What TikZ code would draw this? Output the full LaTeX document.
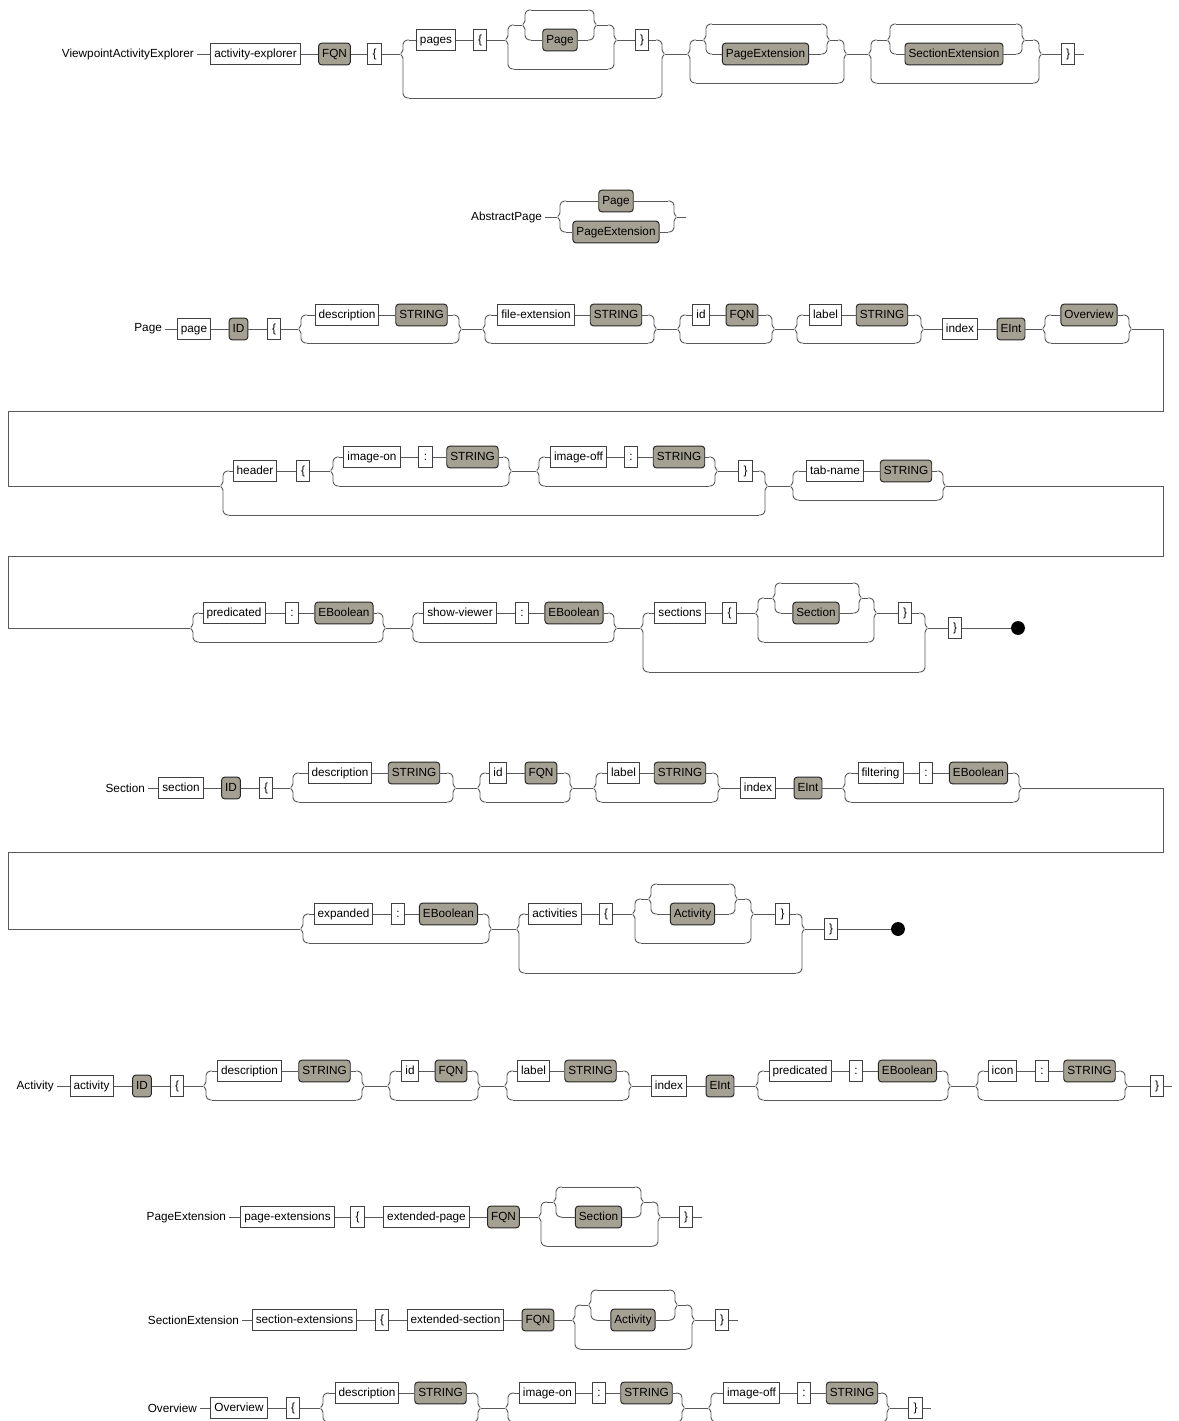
\documentclass[tikz,border=0pt]{standalone}
\usepackage{fontspec}
\setmainfont{Liberation Sans}
\definecolor{refgray}{RGB}{164,160,146}
\tikzset{
  wire/.style={draw=black!65},
  kwbox/.style={draw=black!75, fill=white, minimum height=12.4pt, minimum width=7.9pt,
    inner xsep=2pt, inner ysep=0pt, text height=5pt, text depth=1.4pt},
  refbox/.style={kwbox, draw=black!85, fill=refgray, rounded corners=1.8pt},
  rowname/.style={inner sep=1.5pt, anchor=east},
  enddot/.style={circle, fill=black, inner sep=0pt, minimum size=7.9pt}
}
\newcommand\lfork[5]{%
  \coordinate (#1) at (#2,#3);
  \coordinate (#1-t) at (#2+9,#4);
  \coordinate (#1-b) at (#2+9,#5);
  \draw[wire, rounded corners=0.8pt] (#1-t) -- (#2+6,#4) -- (#2+3,#4+3) -- (#2+3,#3-3) -- (#1) -- (#2+3,#3+3) -- (#2+3,#5-3) -- (#2+6,#5) -- (#1-b);}
\newcommand\rfork[5]{%
  \coordinate (#1) at (#2,#3);
  \coordinate (#1-t) at (#2-9,#4);
  \coordinate (#1-b) at (#2-9,#5);
  \draw[wire, rounded corners=0.8pt] (#1-t) -- (#2-6,#4) -- (#2-3,#4+3) -- (#2-3,#3-3) -- (#1) -- (#2-3,#3+3) -- (#2-3,#5-3) -- (#2-6,#5) -- (#1-b);}
\begin{document}
\begin{tikzpicture}[x=0.02cm, y=-0.02cm, line width=0.55pt, font=\fontsize{6.7}{8}\selectfont]
\useasboundingbox (0,0) rectangle (1179,1421);

\node[rowname] (vae) at (197,54) {ViewpointActivityExplorer};
\node[kwbox] (actexp) at (255.5,54) {activity-explorer};
\node[refbox] (fqnA) at (334.5,54) {FQN};
\node[kwbox] (obrA) at (374.5,54) {\{};
\node[kwbox] (pages) at (436,40) {pages};
\node[kwbox] (obrB) at (480,40) {\{};
\node[refbox] (pageA) at (560,40) {Page};
\node[kwbox] (cbrB) at (642,40) {\}};
\node[refbox] (pgextA) at (765.5,54) {PageExtension};
\node[refbox] (secextA) at (954,54) {SectionExtension};
\node[kwbox] (cbrA) at (1068,54) {\}};
\coordinate (endA) at (1084,54);
\lfork{fa1}{400}{54}{40}{98}
\lfork{fa2}{505}{40}{25}{69}
\lfork{fa3}{522}{25}{10}{40}
\rfork{fa4}{597}{25}{10}{40}
\rfork{fa5}{617}{40}{25}{69}
\rfork{fa6}{665}{54}{40}{98}
\lfork{fa7}{687}{54}{40}{83}
\lfork{fa8}{703}{40}{24}{54}
\rfork{fa9}{830}{40}{24}{54}
\rfork{fa10}{847}{54}{40}{83}
\lfork{fa11}{868}{54}{40}{83}
\lfork{fa12}{887}{40}{24}{54}
\rfork{fa13}{1025}{40}{24}{54}
\rfork{fa14}{1042}{54}{40}{83}
\draw[wire] (vae) -- (actexp) (actexp) -- (fqnA) (fqnA) -- (obrA) (obrA) -- (fa1);
\draw[wire] (fa1-t) -- (pages) (pages) -- (obrB) (obrB) -- (fa2) (fa2-t) -- (fa3) (fa3-b) -- (pageA)
  (pageA) -- (fa4-b) (fa4) -- (fa5-t) (fa3-t) -- (fa4-t) (fa2-b) -- (fa5-b) (fa5) -- (cbrB)
  (cbrB) -- (fa6-t) (fa1-b) -- (fa6-b);
\draw[wire] (fa6) -- (fa7) (fa7-t) -- (fa8) (fa8-b) -- (pgextA) (pgextA) -- (fa9-b) (fa9) -- (fa10-t)
  (fa8-t) -- (fa9-t) (fa7-b) -- (fa10-b) (fa10) -- (fa11);
\draw[wire] (fa11-t) -- (fa12) (fa12-b) -- (secextA) (secextA) -- (fa13-b) (fa13) -- (fa14-t)
  (fa12-t) -- (fa13-t) (fa11-b) -- (fa14-b) (fa14) -- (cbrA) (cbrA) -- (endA);

\node[rowname] (absp) at (545,217) {AbstractPage};
\node[refbox] (pageB) at (616,201) {Page};
\node[refbox] (pgextB) at (616,232) {PageExtension};
\coordinate (endB) at (686,217);
\lfork{fb1}{557}{217}{201}{232}
\rfork{fb2}{677}{217}{201}{232}
\draw[wire] (absp) -- (fb1) (fb1-t) -- (pageB) (pageB) -- (fb2-t) (fb1-b) -- (pgextB) (pgextB) -- (fb2-b)
  (fb2) -- (endB);

\node[rowname] (pageT) at (165,329) {Page};
\node[kwbox] (pagekw) at (194,329) {page};
\node[refbox] (idA) at (238.5,329) {ID};
\node[kwbox] (obrC) at (274,329) {\{};
\node[kwbox] (descA) at (347,315) {description};
\node[refbox] (strA) at (421.5,315) {STRING};
\node[kwbox] (fileext) at (536,315) {file-extension};
\node[refbox] (strB) at (616,315) {STRING};
\node[kwbox] (idkwA) at (701,315) {id};
\node[refbox] (fqnB) at (742,315) {FQN};
\node[kwbox] (labelA) at (825.5,315) {label};
\node[refbox] (strC) at (882,315) {STRING};
\node[kwbox] (indexA) at (960,329) {index};
\node[refbox] (eintA) at (1011,329) {EInt};
\node[refbox] (ovA) at (1089,315) {Overview};
\lfork{fc1}{298}{329}{315}{343}
\rfork{fc2}{462}{329}{315}{343}
\lfork{fc3}{482}{329}{315}{343}
\rfork{fc4}{657}{329}{315}{343}
\lfork{fc5}{677}{329}{315}{343}
\rfork{fc6}{775}{329}{315}{343}
\lfork{fc7}{794}{329}{315}{343}
\rfork{fc8}{924}{329}{315}{343}
\lfork{fc9}{1042}{329}{315}{343}
\rfork{fc10}{1132}{329}{315}{343}
\coordinate (wa) at (1163,411);
\coordinate (wb) at (8,486);
\draw[wire] (pageT) -- (pagekw) (pagekw) -- (idA) (idA) -- (obrC) (obrC) -- (fc1)
  (fc1-t) -- (descA) (descA) -- (strA) (strA) -- (fc2-t) (fc1-b) -- (fc2-b) (fc2) -- (fc3)
  (fc3-t) -- (fileext) (fileext) -- (strB) (strB) -- (fc4-t) (fc3-b) -- (fc4-b) (fc4) -- (fc5)
  (fc5-t) -- (idkwA) (idkwA) -- (fqnB) (fqnB) -- (fc6-t) (fc5-b) -- (fc6-b) (fc6) -- (fc7)
  (fc7-t) -- (labelA) (labelA) -- (strC) (strC) -- (fc8-t) (fc7-b) -- (fc8-b) (fc8) -- (indexA)
  (indexA) -- (eintA) (eintA) -- (fc9) (fc9-t) -- (ovA) (ovA) -- (fc10-t) (fc9-b) -- (fc10-b);

\node[kwbox] (header) at (255,471) {header};
\node[kwbox] (obrD) at (303,471) {\{};
\node[kwbox] (imgonA) at (372,457) {image-on};
\node[kwbox] (colA) at (425.5,457) {:};
\node[refbox] (strD) at (472.5,457) {STRING};
\node[kwbox] (imgoffA) at (578.5,457) {image-off};
\node[kwbox] (colB) at (631,457) {:};
\node[refbox] (strE) at (679,457) {STRING};
\node[kwbox] (cbrD) at (745.5,471) {\}};
\node[kwbox] (tabname) at (835,471) {tab-name};
\node[refbox] (strF) at (906,471) {STRING};
\lfork{fd1}{220}{486}{471}{515}
\lfork{fd2}{330}{471}{457}{486}
\rfork{fd3}{512}{471}{457}{486}
\lfork{fd4}{536}{471}{457}{486}
\rfork{fd5}{718}{471}{457}{486}
\rfork{fd6}{768}{486}{471}{515}
\lfork{fd7}{790}{486}{471}{500}
\rfork{fd8}{946}{486}{471}{500}
\coordinate (wc) at (1163,556);
\coordinate (wd) at (8,628);
\draw[wire] (fc10) -| (wa) -| (wb) -- (fd1);
\draw[wire] (fd1-t) -- (header) (header) -- (obrD) (obrD) -- (fd2)
  (fd2-t) -- (imgonA) (imgonA) -- (colA) (colA) -- (strD) (strD) -- (fd3-t) (fd2-b) -- (fd3-b) (fd3) -- (fd4)
  (fd4-t) -- (imgoffA) (imgoffA) -- (colB) (colB) -- (strE) (strE) -- (fd5-t) (fd4-b) -- (fd5-b)
  (fd5) -- (cbrD) (cbrD) -- (fd6-t) (fd1-b) -- (fd6-b) (fd6) -- (fd7)
  (fd7-t) -- (tabname) (tabname) -- (strF) (strF) -- (fd8-t) (fd7-b) -- (fd8-b);

\node[kwbox] (predA) at (234,613) {predicated};
\node[kwbox] (colC) at (292,613) {:};
\node[refbox] (eboolA) at (344,613) {EBoolean};
\node[kwbox] (showv) at (460,613) {show-viewer};
\node[kwbox] (colD) at (522,613) {:};
\node[refbox] (eboolB) at (574,613) {EBoolean};
\node[kwbox] (sectionsA) at (680,613) {sections};
\node[kwbox] (obrE) at (729.5,613) {\{};
\node[refbox] (secA) at (816,613) {Section};
\node[kwbox] (cbrE) at (905,613) {\}};
\node[kwbox] (cbrF) at (955,628) {\}};
\node[enddot] (dotA) at (1018,628) {};
\lfork{fe1}{190}{628}{613}{642}
\rfork{fe2}{386}{628}{613}{642}
\lfork{fe3}{410}{628}{613}{642}
\rfork{fe4}{617}{628}{613}{642}
\lfork{fe5}{640}{628}{613}{672}
\lfork{fe6}{755}{613}{598}{642}
\lfork{fe7}{772}{598}{583}{613}
\rfork{fe8}{862}{598}{583}{613}
\rfork{fe9}{877}{613}{598}{642}
\rfork{fe10}{928}{628}{613}{672}
\draw[wire] (fd8) -| (wc) -| (wd) -- (fe1);
\draw[wire] (fe1-t) -- (predA) (predA) -- (colC) (colC) -- (eboolA) (eboolA) -- (fe2-t) (fe1-b) -- (fe2-b)
  (fe2) -- (fe3) (fe3-t) -- (showv) (showv) -- (colD) (colD) -- (eboolB) (eboolB) -- (fe4-t)
  (fe3-b) -- (fe4-b) (fe4) -- (fe5) (fe5-t) -- (sectionsA) (sectionsA) -- (obrE) (obrE) -- (fe6)
  (fe6-t) -- (fe7) (fe7-b) -- (secA) (secA) -- (fe8-b) (fe8) -- (fe9-t) (fe7-t) -- (fe8-t)
  (fe6-b) -- (fe9-b) (fe9) -- (cbrE) (cbrE) -- (fe10-t) (fe5-b) -- (fe10-b) (fe10) -- (cbrF)
  (cbrF) -- (dotA);

\node[rowname] (secT) at (148,788) {Section};
\node[kwbox] (seckw) at (181,788) {section};
\node[refbox] (idB) at (231,788) {ID};
\node[kwbox] (obrG) at (266,788) {\{};
\node[kwbox] (descB) at (340,773) {description};
\node[refbox] (strG) at (414,773) {STRING};
\node[kwbox] (idkwB) at (498,773) {id};
\node[refbox] (fqnC) at (541,773) {FQN};
\node[kwbox] (labelB) at (623.5,773) {label};
\node[refbox] (strH) at (680,773) {STRING};
\node[kwbox] (indexB) at (758,788) {index};
\node[refbox] (eintB) at (808,788) {EInt};
\node[kwbox] (filtering) at (880.5,773) {filtering};
\node[kwbox] (colE) at (926,773) {:};
\node[refbox] (eboolC) at (978.5,773) {EBoolean};
\lfork{ff1}{290}{788}{773}{802}
\rfork{ff2}{456}{788}{773}{802}
\lfork{ff3}{477}{788}{773}{802}
\rfork{ff4}{573}{788}{773}{802}
\lfork{ff5}{593}{788}{773}{802}
\rfork{ff6}{721}{788}{773}{802}
\lfork{ff7}{842}{788}{773}{802}
\rfork{ff8}{1022}{788}{773}{802}
\coordinate (we) at (1163,852);
\coordinate (wf) at (8,929);
\draw[wire] (secT) -- (seckw) (seckw) -- (idB) (idB) -- (obrG) (obrG) -- (ff1)
  (ff1-t) -- (descB) (descB) -- (strG) (strG) -- (ff2-t) (ff1-b) -- (ff2-b) (ff2) -- (ff3)
  (ff3-t) -- (idkwB) (idkwB) -- (fqnC) (fqnC) -- (ff4-t) (ff3-b) -- (ff4-b) (ff4) -- (ff5)
  (ff5-t) -- (labelB) (labelB) -- (strH) (strH) -- (ff6-t) (ff5-b) -- (ff6-b) (ff6) -- (indexB)
  (indexB) -- (eintB) (eintB) -- (ff7) (ff7-t) -- (filtering) (filtering) -- (colE) (colE) -- (eboolC)
  (eboolC) -- (ff8-t) (ff7-b) -- (ff8-b);

\node[kwbox] (expanded) at (343.5,914) {expanded};
\node[kwbox] (colF) at (398,914) {:};
\node[refbox] (eboolD) at (448.5,914) {EBoolean};
\node[kwbox] (activA) at (555,914) {activities};
\node[kwbox] (obrH) at (606,914) {\{};
\node[refbox] (actA) at (692.5,914) {Activity};
\node[kwbox] (cbrH) at (782.5,914) {\}};
\node[kwbox] (cbrI) at (831,929) {\}};
\node[enddot] (dotB) at (898,929) {};
\lfork{fg1}{300}{929}{914}{943}
\rfork{fg2}{492}{929}{914}{943}
\lfork{fg3}{516}{929}{914}{973}
\lfork{fg4}{632}{914}{899}{943}
\lfork{fg5}{648}{899}{884}{914}
\rfork{fg6}{738}{899}{884}{914}
\rfork{fg7}{754}{914}{899}{943}
\rfork{fg8}{805}{929}{914}{973}
\draw[wire] (ff8) -| (we) -| (wf) -- (fg1);
\draw[wire] (fg1-t) -- (expanded) (expanded) -- (colF) (colF) -- (eboolD) (eboolD) -- (fg2-t)
  (fg1-b) -- (fg2-b) (fg2) -- (fg3) (fg3-t) -- (activA) (activA) -- (obrH) (obrH) -- (fg4)
  (fg4-t) -- (fg5) (fg5-b) -- (actA) (actA) -- (fg6-b) (fg6) -- (fg7-t) (fg5-t) -- (fg6-t)
  (fg4-b) -- (fg7-b) (fg7) -- (cbrH) (cbrH) -- (fg8-t) (fg3-b) -- (fg8-b) (fg8) -- (cbrI)
  (cbrI) -- (dotB);

\node[rowname] (actT) at (57,1086) {Activity};
\node[kwbox] (actkw) at (91.5,1086) {activity};
\node[refbox] (idC) at (142,1086) {ID};
\node[kwbox] (obrJ) at (177,1086) {\{};
\node[kwbox] (descC) at (249.5,1071) {description};
\node[refbox] (strJ) at (324.5,1071) {STRING};
\node[kwbox] (idkwC) at (410,1071) {id};
\node[refbox] (fqnD) at (451,1071) {FQN};
\node[kwbox] (labelC) at (533.5,1071) {label};
\node[refbox] (strK) at (590.5,1071) {STRING};
\node[kwbox] (indexC) at (669,1086) {index};
\node[refbox] (eintC) at (720,1086) {EInt};
\node[kwbox] (predB) at (800,1071) {predicated};
\node[kwbox] (colG) at (856,1071) {:};
\node[refbox] (eboolE) at (907.5,1071) {EBoolean};
\node[kwbox] (icon) at (1002.5,1071) {icon};
\node[kwbox] (colH) at (1042,1071) {:};
\node[refbox] (strL) at (1089.5,1071) {STRING};
\node[kwbox] (cbrJ) at (1157,1086) {\}};
\coordinate (endC) at (1172,1086);
\lfork{fh1}{203}{1086}{1071}{1100}
\rfork{fh2}{365}{1086}{1071}{1100}
\lfork{fh3}{387}{1086}{1071}{1100}
\rfork{fh4}{481}{1086}{1071}{1100}
\lfork{fh5}{504}{1086}{1071}{1100}
\rfork{fh6}{632}{1086}{1071}{1100}
\lfork{fh7}{755}{1086}{1071}{1100}
\rfork{fh8}{951}{1086}{1071}{1100}
\lfork{fh9}{975}{1086}{1071}{1100}
\rfork{fh10}{1128}{1086}{1071}{1100}
\draw[wire] (actT) -- (actkw) (actkw) -- (idC) (idC) -- (obrJ) (obrJ) -- (fh1)
  (fh1-t) -- (descC) (descC) -- (strJ) (strJ) -- (fh2-t) (fh1-b) -- (fh2-b) (fh2) -- (fh3)
  (fh3-t) -- (idkwC) (idkwC) -- (fqnD) (fqnD) -- (fh4-t) (fh3-b) -- (fh4-b) (fh4) -- (fh5)
  (fh5-t) -- (labelC) (labelC) -- (strK) (strK) -- (fh6-t) (fh5-b) -- (fh6-b) (fh6) -- (indexC)
  (indexC) -- (eintC) (eintC) -- (fh7) (fh7-t) -- (predB) (predB) -- (colG) (colG) -- (eboolE)
  (eboolE) -- (fh8-t) (fh7-b) -- (fh8-b) (fh8) -- (fh9) (fh9-t) -- (icon) (icon) -- (colH)
  (colH) -- (strL) (strL) -- (fh10-t) (fh9-b) -- (fh10-b) (fh10) -- (cbrJ) (cbrJ) -- (endC);

\node[rowname] (pgextT) at (229,1217) {PageExtension};
\node[kwbox] (pgextkw) at (287.5,1217) {page-extensions};
\node[kwbox] (obrK) at (357.5,1217) {\{};
\node[kwbox] (extpage) at (426.5,1217) {extended-page};
\node[refbox] (fqnE) at (503.5,1217) {FQN};
\node[refbox] (secB) at (598.5,1217) {Section};
\node[kwbox] (cbrK) at (686,1217) {\}};
\coordinate (endD) at (702,1217);
\lfork{fi1}{538}{1217}{1202}{1246}
\lfork{fi2}{553}{1202}{1187}{1217}
\rfork{fi3}{644}{1202}{1187}{1217}
\rfork{fi4}{661}{1217}{1202}{1246}
\draw[wire] (pgextT) -- (pgextkw) (pgextkw) -- (obrK) (obrK) -- (extpage) (extpage) -- (fqnE) (fqnE) -- (fi1)
  (fi1-t) -- (fi2) (fi2-b) -- (secB) (secB) -- (fi3-b) (fi3) -- (fi4-t) (fi2-t) -- (fi3-t)
  (fi1-b) -- (fi4-b) (fi4) -- (cbrK) (cbrK) -- (endD);

\node[rowname] (secextT) at (242,1320) {SectionExtension};
\node[kwbox] (secextkw) at (304.5,1320) {section-extensions};
\node[kwbox] (obrL) at (382,1320) {\{};
\node[kwbox] (extsec) at (455.5,1320) {extended-section};
\node[refbox] (fqnF) at (538,1320) {FQN};
\node[refbox] (actB) at (633,1320) {Activity};
\node[kwbox] (cbrL) at (722,1320) {\}};
\coordinate (endE) at (738,1320);
\lfork{fj1}{572}{1320}{1305}{1349}
\lfork{fj2}{588}{1305}{1290}{1320}
\rfork{fj3}{678}{1305}{1290}{1320}
\rfork{fj4}{695}{1320}{1305}{1349}
\draw[wire] (secextT) -- (secextkw) (secextkw) -- (obrL) (obrL) -- (extsec) (extsec) -- (fqnF) (fqnF) -- (fj1)
  (fj1-t) -- (fj2) (fj2-b) -- (actB) (actB) -- (fj3-b) (fj3) -- (fj4-t) (fj2-t) -- (fj3-t)
  (fj1-b) -- (fj4-b) (fj4) -- (cbrL) (cbrL) -- (endE);

\node[rowname] (ovT) at (200,1408) {Overview};
\node[kwbox] (ovkw) at (239,1408) {Overview};
\node[kwbox] (obrM) at (293,1408) {\{};
\node[kwbox] (descD) at (367,1393) {description};
\node[refbox] (strM) at (440.5,1393) {STRING};
\node[kwbox] (imgonB) at (547.5,1393) {image-on};
\node[kwbox] (colI) at (599,1393) {:};
\node[refbox] (strN) at (646.5,1393) {STRING};
\node[kwbox] (imgoffB) at (751.5,1393) {image-off};
\node[kwbox] (colJ) at (804,1393) {:};
\node[refbox] (strO) at (852,1393) {STRING};
\node[kwbox] (cbrM) at (915.5,1408) {\}};
\coordinate (endF) at (931,1408);
\lfork{fk1}{320}{1408}{1393}{1422}
\rfork{fk2}{481}{1408}{1393}{1422}
\lfork{fk3}{505}{1408}{1393}{1422}
\rfork{fk4}{685}{1408}{1393}{1422}
\lfork{fk5}{708}{1408}{1393}{1422}
\rfork{fk6}{890}{1408}{1393}{1422}
\draw[wire] (ovT) -- (ovkw) (ovkw) -- (obrM) (obrM) -- (fk1)
  (fk1-t) -- (descD) (descD) -- (strM) (strM) -- (fk2-t) (fk1-b) -- (fk2-b) (fk2) -- (fk3)
  (fk3-t) -- (imgonB) (imgonB) -- (colI) (colI) -- (strN) (strN) -- (fk4-t) (fk3-b) -- (fk4-b) (fk4) -- (fk5)
  (fk5-t) -- (imgoffB) (imgoffB) -- (colJ) (colJ) -- (strO) (strO) -- (fk6-t) (fk5-b) -- (fk6-b)
  (fk6) -- (cbrM) (cbrM) -- (endF);
\end{tikzpicture}
\end{document}
